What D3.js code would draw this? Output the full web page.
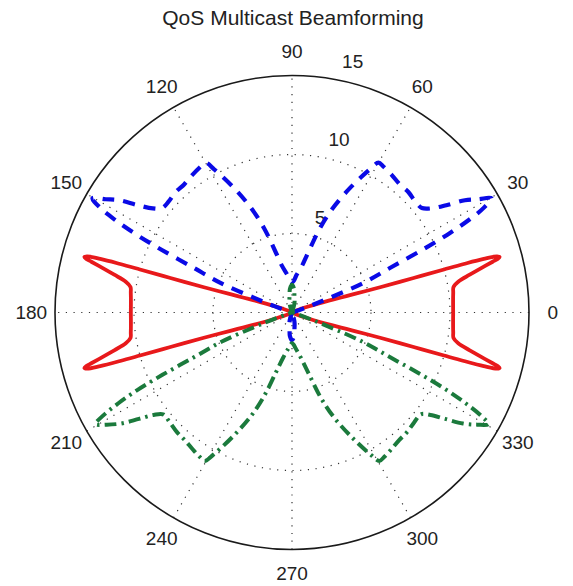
<!DOCTYPE html>
<html>
<head>
<meta charset="utf-8">
<script src="https://cdn.jsdelivr.net/npm/d3@7"></script>
<style>
  html, body { margin: 0; padding: 0; background: #fff; }
  svg { display: block; font-family: "Liberation Sans", Arial, Helvetica, sans-serif; }
</style>
</head>
<body>
<svg id="chart" width="573" height="586"></svg>
<script>
// ---- chart content -------------------------------------------------------
const chartTitle = "QoS Multicast Beamforming";

const angleTicks  = [0, 30, 60, 90, 120, 150, 180, 210, 240, 270, 300, 330];
const angleLabels = ["0", "30", "60", "90", "120", "150", "180", "210", "240", "270", "300", "330"];

const ringTicks  = [5, 10, 15];
const ringLabels = ["5", "10", "15"];
const radialMax  = 15;

// Beam gain vs. direction, [angle in degrees, gain].
// Patterns are symmetric about the 90°–270° axis; quadrants are listed once.

// Solid red beam: first quadrant (0°..90°), repeated in all four quadrants
const redQuadrant = [
  [0, 10.2], [4, 10.22], [7, 10.28], [9, 10.35], [10.5, 10.7], [12, 11.5],
  [13.2, 12.3], [14.2, 13.1], [14.6, 13.45], [14.95, 13.6], [15.3, 13.45],
  [15.6, 12.6], [15.75, 11.3], [15.8, 10.0], [15.85, 8.0], [16.0, 5.8],
  [16.5, 4.2], [17.8, 2.5], [20, 1.1], [24, 0.35], [30, 0.08], [40, 0], [90, 0]
];

// Dashed blue beam: first quadrant (0°..90°), mirrored into 90°..180°
const blueQuadrant = [
  [0, 0], [15, 0.05], [18, 0.4], [20, 1.3], [21.2, 2.6], [22.5, 4.9],
  [24.5, 6.9], [25.7, 9.2], [26.6, 11.0], [27.6, 12.6], [28.6, 13.8],
  [29.8, 14.55], [31.3, 13.8], [33, 13.05], [34.8, 11.9], [36.8, 11.0],
  [38.8, 10.55], [42, 10.5], [46, 10.6], [50, 10.6], [54, 10.75],
  [58, 10.9], [60, 10.95], [61.5, 10.3], [65, 8.7], [68.6, 7.1],
  [71.7, 5.6], [75, 3.9], [78, 3.0], [83, 2.4], [87, 2.0], [90, 1.9]
];
// Dashed blue beam: small lobe in the lower half
const blueLowerLobe = [
  [250, 0], [255, 0.6], [262, 1.1], [265, 1.5], [270, 1.75],
  [275, 1.5], [278, 1.1], [285, 0.6], [290, 0]
];

// Dash-dot green beam: angles measured below the 0° axis (0°..-90°),
// mirrored into -90°..-180°
const greenQuadrant = [
  [0, 0], [15, 0.05], [18, 0.4], [20, 1.3], [21.2, 2.6], [22.5, 4.8],
  [24.5, 6.8], [25.7, 9.1], [26.6, 10.9], [27.6, 12.4], [28.6, 13.6],
  [29.6, 14.3], [31.2, 13.7], [33, 12.9], [34.8, 11.8], [36.5, 10.9],
  [38.3, 10.4], [42, 10.4], [46, 10.5], [50, 10.55], [54, 10.7],
  [57.5, 10.85], [59.5, 10.9], [61, 10.3], [64.5, 8.7], [68.3, 7.1],
  [71.5, 5.6], [75, 3.9], [79, 2.9], [84, 2.3], [87, 2.05], [90, 1.95]
];
// Dash-dot green beam: small lobe in the upper half
const greenUpperLobe = [
  [70, 0], [75, 0.6], [82, 1.1], [85, 1.5], [90, 1.75],
  [95, 1.5], [98, 1.1], [105, 0.6], [110, 0]
];

// ---- layout --------------------------------------------------------------
const width = 573, height = 586;
const cx = 292, cy = 312.5, R = 237;

const svg = d3.select("#chart");
const rScale = d3.scaleLinear().domain([0, radialMax]).range([0, R]);
const toRad = d => d * Math.PI / 180;

// ---- build closed curves from quadrant data -------------------------------
const redCurve = [
  ...redQuadrant,
  ...redQuadrant.slice(0, -1).reverse().map(([a, g]) => [180 - a, g]),
  ...redQuadrant.slice(1).map(([a, g]) => [180 + a, g]),
  ...redQuadrant.slice(1, -1).reverse().map(([a, g]) => [360 - a, g])
];

const blueCurve = [
  ...blueQuadrant,
  ...blueQuadrant.slice(0, -1).reverse().map(([a, g]) => [180 - a, g]),
  ...blueLowerLobe
];

const greenCurve = [
  [0, 0],
  ...greenUpperLobe,
  ...greenQuadrant.map(([a, g]) => [180 + a, g]),
  ...greenQuadrant.slice(1, -1).reverse().map(([a, g]) => [360 - a, g])
];

// ---- grid ----------------------------------------------------------------
const grid = svg.append("g").attr("transform", `translate(${cx},${cy})`);
const dotted = { stroke: "#333", width: 1.2, dash: "1.2,6.5" };

// spokes (full diameters every 30°)
grid.selectAll("line.spoke")
  .data(angleTicks.filter(a => a > 0 && a <= 180))
  .join("line")
  .attr("class", "spoke")
  .attr("x1", a => -R * Math.cos(toRad(a)))
  .attr("y1", a => R * Math.sin(toRad(a)))
  .attr("x2", a => R * Math.cos(toRad(a)))
  .attr("y2", a => -R * Math.sin(toRad(a)))
  .attr("stroke", dotted.stroke)
  .attr("stroke-width", dotted.width)
  .attr("stroke-dasharray", dotted.dash);

// inner dotted rings
grid.selectAll("circle.ring")
  .data(ringTicks.filter(v => v < radialMax))
  .join("circle")
  .attr("class", "ring")
  .attr("r", v => rScale(v))
  .attr("fill", "none")
  .attr("stroke", dotted.stroke)
  .attr("stroke-width", dotted.width)
  .attr("stroke-dasharray", dotted.dash);

// outer boundary
grid.append("circle")
  .attr("r", rScale(radialMax))
  .attr("fill", "none")
  .attr("stroke", "#1a1a1a")
  .attr("stroke-width", 1.6);

// ring value labels
grid.selectAll("text.ringlabel")
  .data(ringTicks)
  .join("text")
  .attr("class", "ringlabel")
  .attr("x", v => (rScale(v) + 21) * Math.cos(toRad(80)) + 5.3)
  .attr("y", v => -(rScale(v) + 21) * Math.sin(toRad(80)) + 3)
  .attr("text-anchor", "start")
  .attr("dominant-baseline", "central")
  .attr("font-size", 19)
  .attr("fill", "#222")
  .text((v, i) => ringLabels[i]);

// angle labels
grid.selectAll("text.anglelabel")
  .data(angleTicks)
  .join("text")
  .attr("class", "anglelabel")
  .attr("x", a => 1.1 * R * Math.cos(toRad(a)))
  .attr("y", a => -1.1 * R * Math.sin(toRad(a)))
  .attr("text-anchor", "middle")
  .attr("dominant-baseline", "central")
  .attr("font-size", 19)
  .attr("fill", "#222")
  .text((a, i) => angleLabels[i]);

// ---- beam patterns -------------------------------------------------------
const radial = d3.lineRadial()
  .angle(d => Math.PI / 2 - toRad(d[0]))
  .radius(d => rScale(d[1]))
  .curve(d3.curveCatmullRomClosed.alpha(0.5));

const series = [
  { name: "red",   data: redCurve,   color: "#e8191b", width: 3.8, dash: null },
  { name: "blue",  data: blueCurve,  color: "#0a0ae6", width: 4.2, dash: "12,9" },
  { name: "green", data: greenCurve, color: "#1b7a3c", width: 4.0, dash: "12,5,2.5,5" }
];

const plot = svg.append("g").attr("transform", `translate(${cx},${cy})`);
plot.selectAll("path.beam")
  .data(series)
  .join("path")
  .attr("class", "beam")
  .attr("d", s => radial(s.data))
  .attr("fill", "none")
  .attr("stroke", s => s.color)
  .attr("stroke-width", s => s.width)
  .attr("stroke-linejoin", "round")
  .attr("stroke-dasharray", s => s.dash);

// ---- title ---------------------------------------------------------------
svg.append("text")
  .attr("x", 293)
  .attr("y", 25)
  .attr("text-anchor", "middle")
  .attr("font-size", 21)
  .attr("fill", "#222")
  .text(chartTitle);
</script>
</body>
</html>
